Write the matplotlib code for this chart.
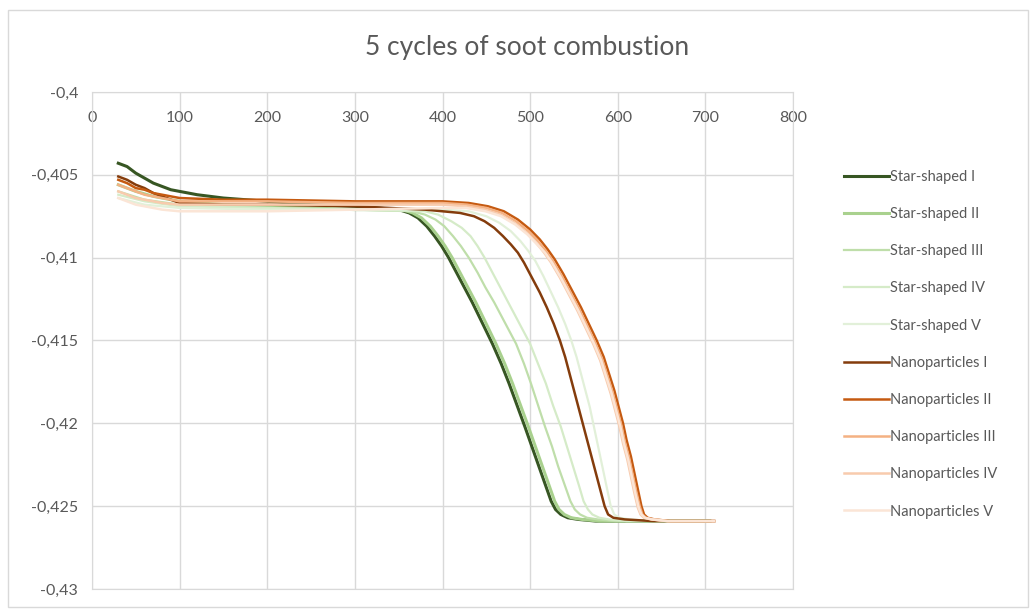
import matplotlib
matplotlib.use("Agg")
import matplotlib.pyplot as plt
from matplotlib.patches import Rectangle
from matplotlib.ticker import FuncFormatter

plt.rcParams['font.family'] = ['Lato', 'DejaVu Sans']

# temperature (x) and signal (y)
star1_x = [30, 40, 50, 60, 70, 80, 90, 100, 120, 150, 200, 250, 300, 350, 362, 372, 382, 391,
           399, 407, 416, 425, 434, 446, 457, 467, 476, 485, 494, 502, 510, 518, 524, 529, 535,
           543, 555, 575, 705]
star1_y = [-0.4043, -0.4045, -0.4049, -0.4052, -0.4055, -0.4057, -0.4059, -0.4060, -0.4062,
           -0.4064, -0.4066, -0.4068, -0.4069, -0.4071, -0.4073, -0.4076, -0.4081, -0.4087,
           -0.4093, -0.4100, -0.4109, -0.4118, -0.4127, -0.4140, -0.4152, -0.4164, -0.4176,
           -0.4189, -0.4202, -0.4214, -0.4226, -0.4238, -0.4247, -0.4252, -0.4255, -0.4257,
           -0.4258, -0.4259, -0.4259]

star2_x = [30, 50, 70, 100, 150, 200, 300, 354, 366, 376, 386, 395, 403, 411, 420, 429, 438,
           450, 461, 471, 480, 489, 498, 506, 514, 522, 528, 533, 539, 547, 559, 579, 705]
star2_y = [-0.4056, -0.4060, -0.4063, -0.4066, -0.4068, -0.4069, -0.4071, -0.4071, -0.4073,
           -0.4076, -0.4081, -0.4087, -0.4093, -0.4100, -0.4109, -0.4118, -0.4127, -0.4140,
           -0.4152, -0.4164, -0.4176, -0.4189, -0.4202, -0.4214, -0.4226, -0.4238, -0.4247,
           -0.4252, -0.4255, -0.4257, -0.4258, -0.4259, -0.4259]

star3_x = [30, 60, 100, 200, 300, 365, 380, 392, 402, 412, 421, 430, 440, 449, 459, 472, 484,
           493, 501, 509, 517, 525, 532, 540, 546, 551, 557, 565, 577, 597, 705]
star3_y = [-0.4060, -0.4065, -0.4068, -0.4070, -0.4071, -0.4072, -0.4074, -0.4077, -0.4081,
           -0.4087, -0.4093, -0.4100, -0.4109, -0.4118, -0.4127, -0.4140, -0.4152, -0.4164,
           -0.4176, -0.4189, -0.4202, -0.4214, -0.4226, -0.4238, -0.4247, -0.4252, -0.4255,
           -0.4257, -0.4258, -0.4259, -0.4259]

star4_x = [30, 60, 100, 200, 300, 380, 395, 410, 422, 432, 440, 448, 457, 466, 475, 488, 500,
           509, 518, 526, 535, 542, 549, 556, 561, 566, 571, 579, 590, 610, 705]
star4_y = [-0.4062, -0.4066, -0.4069, -0.4070, -0.4071, -0.4072, -0.4074, -0.4078, -0.4082,
           -0.4087, -0.4093, -0.4100, -0.4109, -0.4118, -0.4127, -0.4140, -0.4152, -0.4164,
           -0.4176, -0.4189, -0.4202, -0.4214, -0.4226, -0.4238, -0.4247, -0.4252, -0.4255,
           -0.4257, -0.4258, -0.4259, -0.4259]

star5_x = [30, 60, 100, 200, 300, 400, 430, 450, 465, 478, 489, 498, 506, 515, 524, 532, 540,
           547, 553, 558, 563, 568, 572, 576, 580, 584, 588, 592, 596, 602, 614, 640, 705]
star5_y = [-0.4064, -0.4068, -0.4070, -0.4071, -0.4071, -0.4071, -0.4072, -0.4075, -0.4079,
           -0.4084, -0.4090, -0.4096, -0.4102, -0.4111, -0.4121, -0.4130, -0.4140, -0.4150,
           -0.4160, -0.4170, -0.4180, -0.4190, -0.4200, -0.4210, -0.4220, -0.4230, -0.4240,
           -0.4250, -0.4255, -0.4257, -0.4258, -0.4259, -0.4259]

nano1_x = [30, 40, 50, 60, 70, 80, 100, 150, 200, 300, 380, 420, 436, 448, 459, 469, 478, 486,
           493, 502, 511, 519, 527, 534, 540, 545, 550, 555, 560, 565, 570, 575, 580, 585, 589,
           595, 608, 640, 710]
nano1_y = [-0.4051, -0.4053, -0.4056, -0.4058, -0.4061, -0.4063, -0.4067, -0.4068, -0.4068,
           -0.4069, -0.4071, -0.4073, -0.4075, -0.4078, -0.4082, -0.4087, -0.4092, -0.4097,
           -0.4103, -0.4112, -0.4121, -0.4130, -0.4140, -0.4150, -0.4160, -0.4170, -0.4180,
           -0.4190, -0.4200, -0.4210, -0.4220, -0.4230, -0.4240, -0.4250, -0.4255, -0.4257,
           -0.4258, -0.4259, -0.4259]

nano2_x = [30, 40, 50, 60, 70, 80, 100, 150, 200, 300, 400, 430, 452, 470, 486, 500, 511, 520,
           528, 538, 548, 558, 567, 576, 584, 590, 596, 601, 606, 610, 615, 619, 623, 627, 630,
           634, 642, 660, 710]
nano2_y = [-0.4053, -0.4055, -0.4058, -0.4059, -0.4061, -0.4062, -0.4064, -0.4065, -0.4065,
           -0.4066, -0.4066, -0.4067, -0.4069, -0.4072, -0.4077, -0.4083, -0.4089, -0.4095,
           -0.4101, -0.4110, -0.4120, -0.4130, -0.4140, -0.4150, -0.4160, -0.4170, -0.4180,
           -0.4190, -0.4200, -0.4210, -0.4220, -0.4230, -0.4240, -0.4250, -0.4255, -0.4257,
           -0.4258, -0.4259, -0.4259]

nano3_x = [30, 40, 50, 60, 80, 100, 150, 200, 300, 400, 428, 450, 468, 484, 498, 509, 518,
           526, 536, 546, 556, 565, 574, 582, 588, 594, 599, 604, 608, 613, 617, 621, 625, 628,
           632, 640, 658, 710]
nano3_y = [-0.4056, -0.4058, -0.4060, -0.4062, -0.4064, -0.4066, -0.4066, -0.4066, -0.4067,
           -0.4067, -0.4068, -0.4070, -0.4073, -0.4078, -0.4084, -0.4090, -0.4096, -0.4102,
           -0.4111, -0.4121, -0.4131, -0.4141, -0.4151, -0.4161, -0.4171, -0.4181, -0.4191,
           -0.4201, -0.4211, -0.4221, -0.4231, -0.4241, -0.4250, -0.4255, -0.4257, -0.4258,
           -0.4259, -0.4259]

nano4_x = [30, 40, 50, 60, 80, 100, 150, 200, 300, 400, 426, 448, 466, 482, 496, 507, 516,
           524, 534, 544, 554, 563, 572, 580, 586, 592, 597, 602, 606, 611, 615, 619, 623, 626,
           630, 638, 656, 710]
nano4_y = [-0.4060, -0.4062, -0.4064, -0.4065, -0.4067, -0.4068, -0.4068, -0.4068, -0.4068,
           -0.4068, -0.4069, -0.4071, -0.4074, -0.4079, -0.4085, -0.4091, -0.4097, -0.4103,
           -0.4112, -0.4122, -0.4132, -0.4142, -0.4152, -0.4162, -0.4172, -0.4182, -0.4192,
           -0.4202, -0.4212, -0.4222, -0.4232, -0.4242, -0.4251, -0.4255, -0.4257, -0.4258,
           -0.4259, -0.4259]

nano5_x = [30, 40, 50, 60, 80, 100, 150, 200, 300, 400, 427, 449, 467, 483, 497, 508, 517,
           525, 535, 545, 555, 564, 573, 581, 587, 593, 598, 603, 607, 612, 616, 620, 624, 627,
           631, 639, 657, 710]
nano5_y = [-0.4064, -0.4066, -0.4068, -0.4069, -0.4071, -0.4072, -0.4072, -0.4072, -0.4071,
           -0.4070, -0.4070, -0.4072, -0.4075, -0.4080, -0.4086, -0.4092, -0.4097, -0.4103,
           -0.4112, -0.4122, -0.4132, -0.4142, -0.4152, -0.4162, -0.4172, -0.4182, -0.4192,
           -0.4202, -0.4212, -0.4222, -0.4232, -0.4242, -0.4251, -0.4255, -0.4257, -0.4258,
           -0.4259, -0.4259]

labels = ['Star-shaped I', 'Star-shaped II', 'Star-shaped III', 'Star-shaped IV', 'Star-shaped V',
          'Nanoparticles I', 'Nanoparticles II', 'Nanoparticles III', 'Nanoparticles IV',
          'Nanoparticles V']
xs = [star1_x, star2_x, star3_x, star4_x, star5_x, nano1_x, nano2_x, nano3_x, nano4_x, nano5_x]
ys = [star1_y, star2_y, star3_y, star4_y, star5_y, nano1_y, nano2_y, nano3_y, nano4_y, nano5_y]
colors = ['#375623', '#a9d18e', '#bfdeaa', '#d5ebc8', '#e2f0d9',
          '#843c0c', '#c55a11', '#f4b183', '#f8cbad', '#fbe5d6']
widths = [2.2, 2.2, 1.6, 1.6, 1.6, 1.8, 1.8, 1.8, 1.8, 1.8]

grey = '#595959'
fig = plt.figure(figsize=(10.34, 6.10), dpi=100)
fig.add_artist(Rectangle((8 / 1034, 3 / 610), 1020 / 1034, 597 / 610, transform=fig.transFigure,
                         fill=False, edgecolor='#d9d9d9', linewidth=1))
ax = fig.add_axes([92 / 1034, 21 / 610, 701 / 1034, 497 / 610])

for x, y, c, w, lab in zip(xs, ys, colors, widths, labels):
    ax.plot(x, y, color=c, lw=w, label=lab)

ax.set_xlim(0, 800)
ax.set_ylim(-0.43, -0.4)
ax.set_xticks(range(0, 801, 100))
ax.set_yticks([-0.43, -0.425, -0.42, -0.415, -0.41, -0.405, -0.4])
ax.yaxis.set_major_formatter(FuncFormatter(lambda v, p: ('%g' % round(v, 4)).replace('.', ',')))
ax.grid(True, color='#d9d9d9', lw=1)
ax.set_axisbelow(True)
for s in ax.spines.values():
    s.set_color('#d9d9d9')
ax.xaxis.set_ticks_position('top')
ax.tick_params(axis='x', length=0, labeltop=True, labelbottom=False, pad=-24,
               labelsize=11.5, labelcolor=grey)
ax.tick_params(axis='y', length=0, pad=10, labelsize=11.5, labelcolor=grey)

fig.text(0.51, 1 - 47 / 610, '5 cycles of soot combustion', ha='center', va='center',
         fontsize=19, color=grey)

ax.legend(loc='upper left', bbox_to_anchor=(746 / 701, 1 - 72 / 497), frameon=False,
          fontsize=10.5, labelcolor=grey, handlelength=3.1, handletextpad=0.1,
          labelspacing=1.59, borderaxespad=0)

fig.savefig('out.png', dpi=100)
